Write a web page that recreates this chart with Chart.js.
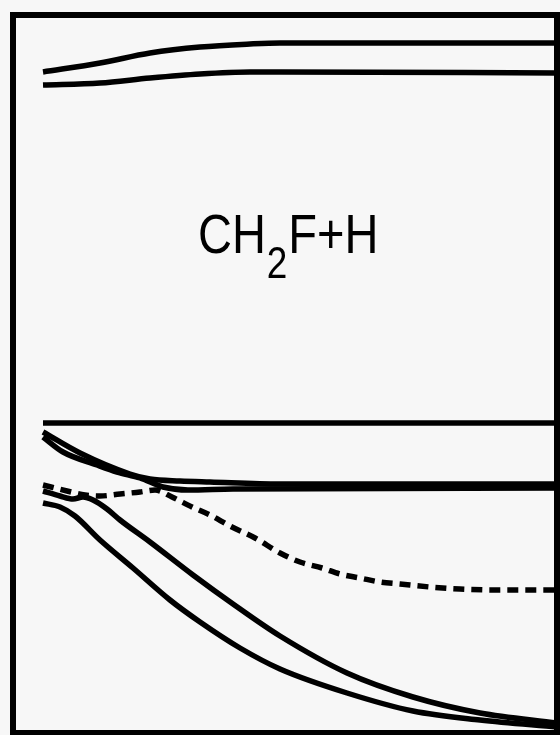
<!DOCTYPE html>
<html>
<head>
<meta charset="utf-8">
<script src="https://cdn.jsdelivr.net/npm/chart.js@4/dist/chart.umd.min.js"></script>
<style>
  html, body { margin: 0; padding: 0; background: #f7f7f7; }
  canvas { display: block; }
</style>
</head>
<body>
<canvas id="pesChart" width="560" height="735"></canvas>
<script>
// Potential energy curves, CH2F + H (arbitrary units)
const topUpperX = [30, 87, 137, 187, 237, 267, 544];
const topUpperY = [661, 670, 680, 686, 689, 690, 690];
const topLowerX = [30, 87, 137, 187, 237, 267, 544];
const topLowerY = [648, 650, 655, 659, 661, 661, 660];

const asymptoteX = [30, 544];
const asymptoteY = [310, 310];

const pairUpperX = [30, 67, 117, 137, 167, 197, 267, 544];
const pairUpperY = [301, 280, 259, 254, 252, 251, 249, 249];
const pairLowerX = [30, 50, 84, 104, 127, 150, 175, 220, 544];
const pairLowerY = [296, 281, 268, 261, 255, 246, 243, 244, 245];

const dashedX = [30, 54, 72, 87, 107, 127, 142, 159, 179, 197, 217, 242, 267, 287, 309, 327, 347, 367, 387, 417, 447, 487, 544];
const dashedY = [248, 242, 238, 237, 239, 241, 243, 236, 226, 218, 207, 195, 180, 171, 165, 159, 155, 151, 149, 146, 144, 143, 143];

const curveAX = [30, 47, 60, 70, 80, 94, 107, 137, 180, 220, 267, 334, 400, 467, 544];
const curveAY = [242, 237, 234, 236, 233, 224, 213, 191, 158, 129, 97, 60, 36, 20, 10];

const curveBX = [30, 47, 62, 87, 120, 157, 187, 227, 267, 334, 400, 467, 544];
const curveBY = [230, 226, 217, 193, 165, 133, 111, 85, 64, 40, 22, 13, 6];

function toPoints(xs, ys) {
  return xs.map((x, i) => ({ x: x, y: ys[i] }));
}

function curve(xs, ys, dash) {
  return {
    data: toPoints(xs, ys),
    borderColor: '#000000',
    borderWidth: 5.5,
    borderDash: dash || [],
    borderCapStyle: 'butt',
    pointRadius: 0,
    fill: false,
    cubicInterpolationMode: 'monotone'
  };
}

// frame round the plot and the label
const framePlugin = {
  id: 'frame',
  beforeDraw(chart) {
    const c = chart.ctx;
    c.save();
    c.fillStyle = '#f7f7f7';
    c.fillRect(0, 0, chart.width, chart.height);
    c.restore();
  },
  afterDraw(chart) {
    const c = chart.ctx;
    const a = chart.chartArea;
    c.save();
    c.strokeStyle = '#000000';
    c.lineWidth = 6;
    c.strokeRect(a.left, a.top, a.right - a.left, a.bottom - a.top);

    // CH2F+H, narrow sans
    const sx = 0.84;
    const base = 253;
    c.fillStyle = '#000000';
    c.textBaseline = 'alphabetic';
    c.translate(198, 0);
    c.scale(sx, 1);
    let pos = 0;
    c.font = '56px "Liberation Sans", Arial, sans-serif';
    c.fillText('CH', pos, base);
    pos += c.measureText('CH').width + 1;
    c.font = '44px "Liberation Sans", Arial, sans-serif';
    c.fillText('2', pos, base + 25);
    pos += c.measureText('2').width + 1;
    c.font = '56px "Liberation Sans", Arial, sans-serif';
    c.fillText('F+H', pos, base);
    c.restore();
  }
};

new Chart(document.getElementById('pesChart'), {
  type: 'line',
  data: {
    datasets: [
      curve(topUpperX, topUpperY),
      curve(topLowerX, topLowerY),
      curve(asymptoteX, asymptoteY),
      curve(pairUpperX, pairUpperY),
      curve(pairLowerX, pairLowerY),
      curve(dashedX, dashedY, [11, 7]),
      curve(curveAX, curveAY),
      curve(curveBX, curveBY)
    ]
  },
  options: {
    responsive: false,
    animation: false,
    layout: {
      padding: { left: 13, top: 15, right: 3, bottom: 2 }
    },
    plugins: {
      legend: { display: false },
      tooltip: { enabled: false }
    },
    scales: {
      x: { type: 'linear', min: 0, max: 544, display: false },
      y: { type: 'linear', min: 0, max: 718, display: false }
    }
  },
  plugins: [framePlugin]
});
</script>
</body>
</html>
